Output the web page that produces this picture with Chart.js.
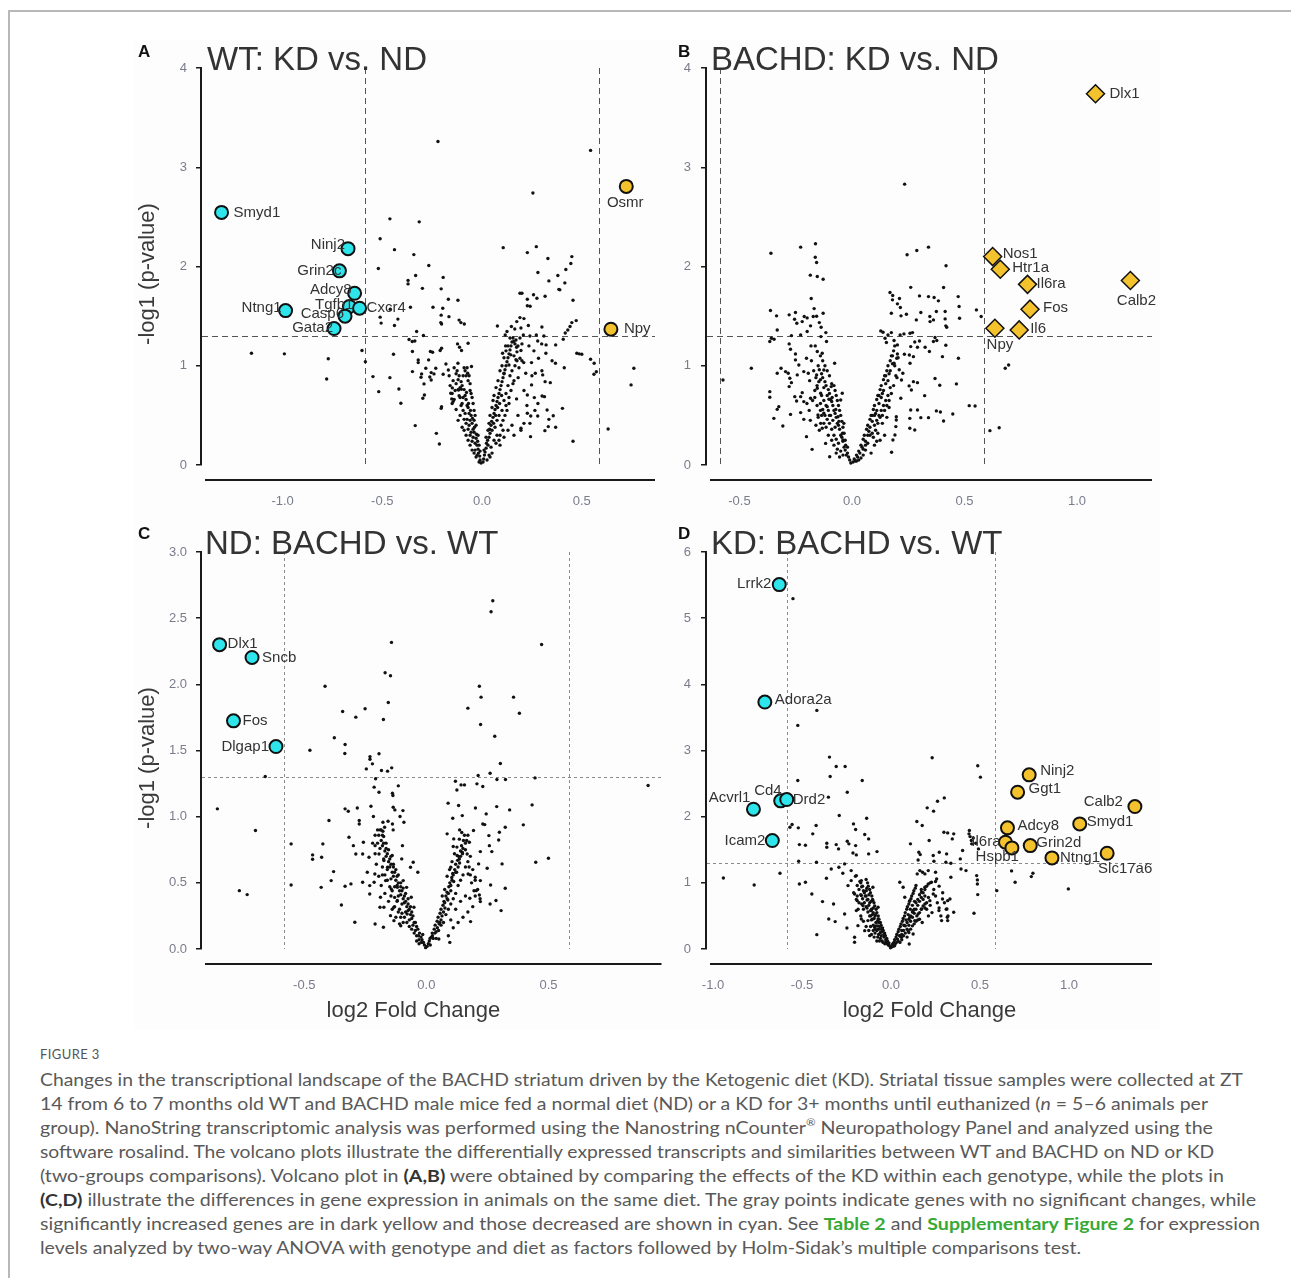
<!DOCTYPE html>
<html>
<head>
<meta charset="utf-8">
<title>Figure 3 volcano plots</title>
<script src="https://cdn.jsdelivr.net/npm/chart.js@4.4.1/dist/chart.umd.min.js"></script>
<style>
  body { margin: 0; width: 1291px; height: 1278px; position: relative; background: #fff; overflow: hidden; }
  .frame { position: absolute; left: 8px; top: 10px; width: 1300px; height: 1300px; border-top: 2px solid #b8b8b8; border-left: 2px solid #b8b8b8; }
  .figbg { position: absolute; left: 134px; top: 40px; width: 1026px; height: 990px; background: #fdfdfd; }
  canvas { position: absolute; }
  .ttl { position: absolute; font: 33px/33px "Liberation Sans", Arial, sans-serif; color: #333; white-space: nowrap; }
  .let { position: absolute; font: bold 17px/17px "Liberation Sans", Arial, sans-serif; color: #111; }
  .cap { position: absolute; left: 40px; height: 22px; font: 17px/22px Lato, "Open Sans", sans-serif; color: #595959; white-space: nowrap; transform-origin: 0 0; }
  .cap b { color: #333; }
  .cap .lnk { color: #38a936; font-weight: bold; }
  .cap sup { font-size: 10px; line-height: 0; vertical-align: 0; position: relative; top: -8px; }
  .figno { position: absolute; left: 40px; top: 1046px; font: 13px/16px Lato, sans-serif; color: #555; letter-spacing: 0.4px; }
</style>
</head>
<body>
<div class="frame"></div>
<div class="figbg"></div>

<canvas id="cA" width="540" height="490" style="left:130px;top:40px"></canvas>
<canvas id="cB" width="500" height="490" style="left:665px;top:40px"></canvas>
<canvas id="cC" width="540" height="510" style="left:130px;top:520px"></canvas>
<canvas id="cD" width="500" height="510" style="left:665px;top:520px"></canvas>

<div class="ttl" style="left:207px;top:42px">WT: KD vs. ND</div>
<div class="ttl" style="left:711px;top:42px">BACHD: KD vs. ND</div>
<div class="ttl" style="left:205px;top:526px">ND: BACHD vs. WT</div>
<div class="ttl" style="left:711px;top:526px">KD: BACHD vs. WT</div>
<div class="let" style="left:138px;top:43px">A</div>
<div class="let" style="left:678px;top:43px">B</div>
<div class="let" style="left:138px;top:525px">C</div>
<div class="let" style="left:678px;top:525px">D</div>

<div class="figno">FIGURE 3</div>
<div class="cap" style="top:1069px">Changes in the transcriptional landscape of the BACHD striatum driven by the Ketogenic diet (KD). Striatal tissue samples were collected at ZT</div>
<div class="cap" style="top:1093px">14 from 6 to 7 months old WT and BACHD male mice fed a normal diet (ND) or a KD for 3+ months until euthanized (<i>n</i> = 5–6 animals per</div>
<div class="cap" style="top:1117px">group). NanoString transcriptomic analysis was performed using the Nanostring nCounter<sup>®</sup> Neuropathology Panel and analyzed using the</div>
<div class="cap" style="top:1141px">software rosalind. The volcano plots illustrate the differentially expressed transcripts and similarities between WT and BACHD on ND or KD</div>
<div class="cap" style="top:1165px">(two-groups comparisons). Volcano plot in <b>(A,B)</b> were obtained by comparing the effects of the KD within each genotype, while the plots in</div>
<div class="cap" style="top:1189px"><b>(C,D)</b> illustrate the differences in gene expression in animals on the same diet. The gray points indicate genes with no significant changes, while</div>
<div class="cap" style="top:1213px">significantly increased genes are in dark yellow and those decreased are shown in cyan. See <span class="lnk">Table 2</span> and <span class="lnk">Supplementary Figure 2</span> for expression</div>
<div class="cap" style="top:1237px">levels analyzed by two-way ANOVA with genotype and diet as factors followed by Holm-Sidak’s multiple comparisons test.</div>

<script>
// ---- thresholds ----
const FC_CUT = 0.585;   // log2(1.5)
const P_CUT = 1.3;      // -log10(0.05)

// ---- tick labels ----
const xTicksA = [-1.0, -0.5, 0.0, 0.5];
const yTicksA = [0, 1, 2, 3, 4];
const xTicksB = [-0.5, 0.0, 0.5, 1.0];
const yTicksB = [0, 1, 2, 3, 4];
const xTicksC = [-0.5, 0.0, 0.5];
const yTicksC = [0.0, 0.5, 1.0, 1.5, 2.0, 2.5, 3.0];
const xTicksD = [-1.0, -0.5, 0.0, 0.5, 1.0];
const yTicksD = [0, 1, 2, 3, 4, 5, 6];

// ---- A: WT KD vs ND ----
const downA_genes = ['Smyd1', 'Ninj2', 'Grin2c', 'Adcy8', 'Tgfb1', 'Cxcr4', 'Casp6', 'Gata2', 'Ntng1'];
const downA_fc = [-1.306, -0.672, -0.715, -0.639, -0.665, -0.614, -0.687, -0.742, -0.985];
const downA_p = [2.545, 2.18, 1.956, 1.73, 1.597, 1.58, 1.50, 1.375, 1.556];
const upA_genes = ['Osmr', 'Npy'];
const upA_fc = [0.723, 0.646];
const upA_p = [2.807, 1.368];
const nsA = [
  [-0.221,3.26],[0.544,3.17],[0.255,2.74],[-0.462,2.48],[-0.315,2.45],[-0.511,2.28],[-0.439,2.17],[0.106,2.19],[0.272,2.2],[0.227,2.14],
  [-0.342,2.12],[0.45,2.1],[0.33,2.08],[0.445,2.03],[-0.267,2.01],[-0.52,1.98],[0.42,1.97],[0.28,1.94],[-0.195,1.89],[-0.333,1.91],
  [0.38,1.91],[0.335,1.855],[-0.371,1.86],[-0.371,1.825],[0.415,1.835],[-0.299,1.78],[-0.205,1.775],[0.385,1.77],[0.39,1.765],[0.19,1.73],
  [0.2,1.73],[0.316,1.7],[0.258,1.715],[0.275,1.68],[0.227,1.67],[-0.169,1.67],[-0.121,1.66],[0.456,1.66],[0.227,1.605],[0.241,1.6],
  [-0.246,1.59],[-0.197,1.58],[-0.359,1.59],[-0.511,1.49],[-0.46,1.57],[-0.205,1.51],[-0.166,1.495],[-0.422,1.47],[-0.506,1.43],[-0.207,1.435],
  [-0.203,1.42],[-0.106,1.435],[-0.115,1.46],[-0.089,1.42],[-0.439,1.405],[0.19,1.485],[0.21,1.475],[0.174,1.445],[0.472,1.455],[0.45,1.435],
  [0.441,1.395],[0.232,1.405],[0.147,1.395],[0.195,1.38],[0.3,1.39],[0.077,1.4],[0.164,1.37],[-0.328,1.345],[0.125,1.345],[0.43,1.36],
  [0.417,1.33],[0.272,1.31],[0.31,1.3],[-0.294,1.305],[0.116,1.31],[0.207,1.31],[0.24,1.3],
  [-0.366,1.264],[-0.35,1.245],[-0.337,1.25],[-0.07,1.227],[-0.123,1.22],[-0.113,1.187],[-0.103,1.153],[0.321,1.21],[0.369,1.21],[0.407,1.267],
  [0.299,1.22],[0.279,1.25],[0.159,1.244],[0.173,1.187],[0.195,1.153],[0.118,1.2],[0.103,1.126],[-0.203,1.176],[-0.21,1.153],[-0.259,1.143],
  [-0.248,1.136],[-0.349,1.143],[-0.444,1.116],[-0.602,1.153],[-0.585,1.04],[-0.771,1.07],[-0.991,1.12],[-1.156,1.126],[0.475,1.126],[0.5,1.116],
  [0.487,1.12],[0.544,1.066],[0.562,1.025],[0.573,0.94],[0.561,0.914],[0.761,0.975],[0.747,0.807],[0.632,0.363],[0.456,0.239],[0.412,0.98],
  [0.368,1.025],[0.351,1.05],[0.32,1.126],[0.283,1.076],[0.248,1.032],[0.209,1.032],[0.19,1.076],[0.17,1.06],[0.144,1.11],[0.135,1.008],
  [0.11,0.924],[0.219,0.924],[0.267,0.924],[0.304,0.908],[0.316,0.84],[0.342,0.83],[0.248,0.807],[0.181,0.88],[0.313,0.689],[0.301,0.696],
  [0.262,0.679],[0.227,0.706],[0.173,0.666],[0.403,0.571],[0.326,0.555],[0.227,0.521],[0.244,0.494],[0.279,0.494],[0.357,0.497],[0.335,0.46],
  [0.369,0.38],[0.332,0.387],[0.315,0.346],[0.243,0.286],[0.195,0.37],[0.21,0.42],
  [-0.121,1.025],[-0.181,1.018],[-0.169,0.958],[-0.195,0.914],[-0.241,0.918],[-0.255,0.931],[-0.232,0.975],[-0.282,0.975],[-0.32,1.059],[-0.32,1.032],
  [-0.268,1.059],[-0.349,0.941],[-0.303,0.918],[-0.306,0.884],[-0.291,0.817],[-0.255,0.857],[-0.262,0.887],[-0.297,0.672],[-0.289,0.706],[-0.462,0.88],
  [-0.547,0.891],[-0.518,0.739],[-0.417,0.766],[-0.407,0.622],[-0.335,0.397],[-0.779,0.867],[-0.203,0.588],[-0.205,0.571],[-0.229,0.319],[-0.214,0.212],
  [-0.149,0.777],[-0.157,0.723],[-0.152,0.666],[-0.145,0.639],[-0.118,0.756],[-0.115,0.699],[-0.104,0.763],[-0.053,0.992],[-0.072,0.924],
  [-0.005,0.02],[-0.01,0.05],[-0.012,0.09],[-0.018,0.12],[-0.02,0.16],[-0.025,0.2],[-0.022,0.24],[-0.03,0.27],[-0.035,0.22],[-0.028,0.31],
  [-0.04,0.33],[-0.038,0.38],[-0.045,0.36],[-0.05,0.42],[-0.048,0.47],[-0.055,0.5],[-0.06,0.45],[-0.058,0.55],[-0.065,0.52],[-0.07,0.58],
  [-0.068,0.62],[-0.075,0.6],[-0.08,0.66],[-0.085,0.7],[-0.078,0.73],[-0.09,0.76],[-0.095,0.68],[-0.1,0.8],[-0.105,0.84],[-0.11,0.78],
  [-0.115,0.9],[-0.12,0.86],[-0.125,0.95],[-0.13,0.92],[-0.14,0.98],[-0.045,0.28],[-0.055,0.33],[-0.065,0.4],[-0.075,0.46],[-0.085,0.52],
  [-0.095,0.55],[-0.105,0.6],[-0.11,0.5],[-0.12,0.45],[-0.1,0.38],[-0.09,0.35],[-0.08,0.3],[-0.07,0.25],[-0.06,0.2],[-0.05,0.15],
  [-0.04,0.12],[-0.03,0.08],[-0.015,0.03],[-0.135,0.75],[-0.145,0.85],[-0.15,0.62],[-0.13,0.56],[-0.095,0.9],[-0.085,0.95],[-0.06,0.75],[-0.07,0.85],
  [-0.02,0.3],[-0.03,0.4],[-0.035,0.5],[-0.04,0.55],[-0.045,0.62],[-0.05,0.68],[-0.055,0.72],[-0.06,0.82],[-0.065,0.9],[-0.075,0.98],
  [-0.08,0.9],[-0.09,0.98],[-0.1,0.62],[-0.11,0.68],[-0.12,0.76],[-0.13,0.82],[-0.14,0.66],[-0.15,0.72],[-0.16,0.8],[-0.165,0.9],
  [-0.07,0.36],[-0.08,0.42],[-0.09,0.46],[-0.06,0.3],[-0.05,0.24],[-0.035,0.15],[-0.025,0.1],[-0.01,0.14],[-0.015,0.2],[-0.04,0.45],
  [0.005,0.03],[0.008,0.06],[0.012,0.1],[0.015,0.13],[0.02,0.17],[0.022,0.22],[0.028,0.25],[0.03,0.2],[0.035,0.28],[0.04,0.32],
  [0.038,0.36],[0.045,0.4],[0.05,0.35],[0.048,0.44],[0.055,0.48],[0.06,0.52],[0.058,0.42],[0.065,0.56],[0.07,0.6],[0.068,0.5],
  [0.075,0.64],[0.08,0.68],[0.078,0.58],[0.085,0.72],[0.09,0.76],[0.088,0.62],[0.095,0.8],[0.1,0.84],[0.098,0.7],[0.105,0.88],
  [0.11,0.92],[0.115,0.96],[0.12,1.0],[0.125,1.04],[0.13,1.08],[0.135,1.12],[0.14,1.16],[0.145,1.2],[0.15,1.24],[0.155,1.28],
  [0.16,1.1],[0.165,1.22],[0.17,1.26],[0.175,1.14],[0.065,0.38],[0.075,0.45],[0.085,0.5],[0.1,0.55],[0.11,0.65],[0.12,0.72],
  [0.13,0.8],[0.14,0.9],[0.15,0.95],[0.16,0.85],[0.105,0.45],[0.12,0.6],[0.135,0.68],[0.09,0.3],[0.07,0.22],[0.05,0.12],
  [0.04,0.08],[0.025,0.05],[0.18,1.2],[0.19,1.28],[0.2,1.22],[0.185,0.98],[0.2,1.05],[0.21,0.75],[0.225,0.6],[0.18,0.5],
  [0.15,0.4],[0.13,0.35],[0.11,0.28],[0.09,0.2],[0.16,0.3],[0.195,0.35],[0.24,0.42],[0.265,0.55],[0.28,0.62],[0.25,0.9],[0.3,0.95],[0.26,1.15],[0.235,1.2],
  [0.01,0.15],[0.02,0.28],[0.03,0.35],[0.035,0.42],[0.04,0.5],[0.05,0.58],[0.055,0.65],[0.06,0.7],[0.07,0.78],[0.08,0.85],
  [0.09,0.95],[0.1,1.0],[0.11,1.08],[0.12,1.15],[0.13,1.2],[0.14,1.28],[0.095,0.4],[0.105,0.35],[0.115,0.5],[0.125,0.55],
  [0.135,0.62],[0.145,0.75],[0.155,0.82],[0.165,1.0],[0.175,1.05],[0.06,0.25],[0.075,0.3],[0.045,0.18],[0.035,0.1],[0.085,0.25]
];

// ---- B: BACHD KD vs ND ----
const downB_genes = [];
const downB_fc = [];
const downB_p = [];
const upB_genes = ['Dlx1', 'Nos1', 'Htr1a', 'Il6ra', 'Calb2', 'Fos', 'Npy', 'Il6'];
const upB_fc = [1.082, 0.625, 0.659, 0.78, 1.237, 0.791, 0.635, 0.743];
const upB_p = [3.74, 2.10, 1.973, 1.82, 1.859, 1.57, 1.378, 1.361];
const nsB = [
  [0.234,2.83],[-0.162,2.23],[-0.228,2.195],[-0.36,2.134],[-0.163,2.094],[-0.157,2.04],[0.245,2.118],[0.288,2.161],[0.34,2.195],[0.418,2.007],
  [0.261,1.79],[0.407,1.788],[-0.185,1.913],[-0.154,1.9],[-0.128,1.872],[0.169,1.738],[0.181,1.708],[0.211,1.677],[0.3,1.704],[0.34,1.697],
  [0.365,1.687],[0.384,1.654],[0.472,1.697],[-0.181,1.677],[-0.168,1.576],[-0.172,1.496],[-0.199,1.482],[-0.212,1.496],[-0.157,1.499],[-0.128,1.529],
  [-0.145,1.435],[-0.362,1.556],[-0.335,1.503],[-0.279,1.513],[-0.251,1.536],[-0.255,1.469],[-0.221,1.445],[-0.245,1.429],[-0.269,1.304],[-0.228,1.311],
  [-0.199,1.345],[-0.184,1.402],[-0.137,1.388],[-0.116,1.334],[-0.332,1.361],[-0.358,1.277],[-0.365,1.244],[-0.346,1.267],[0.18,1.664],[0.215,1.587],
  [0.202,1.624],[0.175,1.529],[0.218,1.503],[0.242,1.519],[0.306,1.536],[0.286,1.462],[0.346,1.496],[0.375,1.546],[0.414,1.546],[0.414,1.472],
  [0.362,1.462],[0.347,1.445],[0.417,1.402],[0.421,1.388],[0.476,1.597],[0.478,1.479],[0.553,1.563],[0.574,1.496],[0.128,1.351],[0.138,1.338],
  [0.16,1.311],[0.175,1.334],[0.214,1.311],[0.231,1.321],[0.258,1.328],[0.269,1.334],[0.369,1.284],[0.3,1.25],[0.279,1.24],[0.261,1.193],
  [0.187,1.254],[0.153,1.234],[0.147,1.277],[0.202,1.21],[0.291,1.187],[0.325,1.187],[0.344,1.143],[0.377,1.254],[0.417,1.207],[0.362,1.244],
  [0.233,1.116],[0.255,1.109],[0.273,1.092],[0.202,1.119],[0.187,1.025],[0.199,1.076],[0.258,1.025],[0.402,1.092],[0.473,1.076],[0.681,0.975],
  [0.696,1.008],[0.547,0.595],[0.521,0.598],[0.613,0.346],[0.654,0.376],[0.464,0.817],[0.39,0.803],[0.369,0.871],[0.375,0.545],[0.393,0.534],
  [0.407,0.444],[0.448,0.514],[0.34,0.477],[0.306,0.477],[0.323,0.699],[0.291,0.83],[0.273,0.84],[0.254,0.797],[0.264,0.756],[0.291,0.555],
  [0.261,0.555],[0.257,0.47],[0.279,0.353],[0.257,0.37],[0.22,0.857],[0.226,0.924],[0.217,0.672],[0.197,0.487],[0.195,0.387],[0.182,0.252],
  [0.191,0.303],[0.176,0.128],[0.197,0.454],
  [-0.447,0.975],[-0.573,0.857],[-0.365,0.739],[-0.365,0.682],[-0.325,0.588],[-0.332,0.561],[-0.347,0.47],[-0.307,0.393],[-0.273,0.51],[-0.228,0.528],
  [-0.214,0.46],[-0.202,0.286],[-0.177,0.158],[-0.283,0.924],[-0.276,0.874],[-0.269,0.83],[-0.243,0.908],[-0.279,0.79],[-0.295,0.941],[-0.332,0.924],
  [-0.251,1.059],[-0.236,1.008],[-0.202,1.076],[-0.214,0.941],[-0.194,0.924],[-0.188,0.85],[-0.228,0.689],[-0.254,0.689],[-0.246,0.645],[-0.214,0.639],
  [-0.184,0.672],[-0.221,0.729],[-0.157,0.908],[-0.147,0.84],[-0.139,0.723],[-0.154,0.773],[-0.077,1.025],[-0.132,1.126],[-0.113,1.244],[-0.138,1.294],
  [-0.163,1.2],[-0.154,1.143],[-0.182,1.2],[-0.273,1.166],[-0.279,1.22],[-0.251,1.119],[-0.315,0.975],[-0.125,0.958],[-0.092,0.79],[-0.043,0.723],
  [-0.05,0.655],[-0.102,0.662],[-0.11,0.588],[-0.125,0.521],[-0.151,0.504],[-0.139,0.42],[-0.132,0.37],[-0.117,0.218],[-0.099,0.084],[-0.04,0.252],
  [-0.062,0.487],[-0.036,0.42],
  [-0.005,0.02],[-0.01,0.05],[-0.015,0.08],[-0.02,0.12],[-0.025,0.1],[-0.03,0.15],[-0.028,0.2],[-0.035,0.18],[-0.04,0.24],[-0.045,0.28],
  [-0.042,0.32],[-0.05,0.3],[-0.055,0.36],[-0.06,0.4],[-0.058,0.44],[-0.065,0.42],[-0.07,0.48],[-0.075,0.52],[-0.072,0.56],[-0.08,0.55],
  [-0.085,0.6],[-0.09,0.64],[-0.088,0.68],[-0.095,0.66],[-0.1,0.72],[-0.105,0.76],[-0.11,0.7],[-0.115,0.8],[-0.12,0.84],[-0.125,0.78],
  [-0.13,0.88],[-0.135,0.92],[-0.14,0.86],[-0.145,0.96],[-0.15,1.0],[-0.06,0.22],[-0.07,0.26],[-0.08,0.3],[-0.09,0.36],[-0.1,0.42],
  [-0.11,0.46],[-0.12,0.5],[-0.13,0.56],[-0.14,0.62],[-0.05,0.14],[-0.04,0.1],[-0.065,0.16],[-0.075,0.38],[-0.085,0.45],[-0.095,0.5],
  [-0.105,0.55],[-0.115,0.6],[-0.125,0.65],[-0.135,0.7],[-0.155,0.8],[-0.16,0.88],[-0.165,0.75],[-0.17,0.95],[-0.18,1.05],[-0.175,0.65],
  [-0.19,0.55],[-0.2,0.62],[-0.185,0.45],[-0.16,0.4],[-0.145,0.35],[-0.15,0.48],
  [-0.02,0.18],[-0.03,0.25],[-0.035,0.32],[-0.04,0.38],[-0.045,0.44],[-0.05,0.5],[-0.055,0.55],[-0.06,0.6],[-0.065,0.65],[-0.07,0.7],
  [-0.075,0.75],[-0.08,0.8],[-0.09,0.82],[-0.1,0.9],[-0.11,0.95],[-0.12,1.0],[-0.13,1.05],[-0.14,1.1],[-0.105,0.3],[-0.115,0.38],
  [-0.125,0.42],[-0.135,0.5],[-0.14,0.55],[-0.155,0.6],[-0.165,0.68],[-0.08,0.2],[-0.07,0.12],[-0.055,0.08],[-0.09,0.25],[-0.1,0.5],
  [0.005,0.03],[0.01,0.06],[0.015,0.04],[0.02,0.1],[0.025,0.08],[0.03,0.14],[0.035,0.12],[0.04,0.2],[0.045,0.18],[0.05,0.26],
  [0.055,0.3],[0.06,0.24],[0.065,0.36],[0.07,0.4],[0.075,0.34],[0.08,0.46],[0.085,0.5],[0.09,0.44],[0.095,0.56],[0.1,0.6],
  [0.105,0.52],[0.11,0.66],[0.115,0.7],[0.12,0.62],[0.125,0.76],[0.13,0.8],[0.135,0.72],[0.14,0.86],[0.145,0.9],[0.15,0.82],
  [0.155,0.95],[0.16,1.0],[0.165,0.92],[0.17,1.05],[0.175,1.1],[0.18,1.02],[0.185,1.15],[0.19,1.2],[0.07,0.22],[0.08,0.3],
  [0.09,0.32],[0.1,0.4],[0.11,0.45],[0.12,0.5],[0.13,0.55],[0.14,0.6],[0.15,0.65],[0.16,0.7],[0.06,0.15],[0.05,0.1],
  [0.115,0.32],[0.135,0.42],[0.155,0.48],[0.165,0.58],[0.17,0.78],[0.2,0.88],[0.205,1.08],[0.21,0.96],[0.125,0.25],[0.145,0.3],[0.1,0.2],[0.085,0.12],
  [0.02,0.04],[0.03,0.05],[0.04,0.07],[0.05,0.16],[0.06,0.2],[0.07,0.3],[0.08,0.38],[0.09,0.5],[0.1,0.5],[0.11,0.55],
  [0.12,0.7],[0.13,0.68],[0.14,0.75],[0.15,0.9],[0.16,0.85],[0.17,0.95],[0.18,1.1],[0.19,1.0],[0.095,0.28],[0.105,0.35],
  [0.115,0.42],[0.125,0.48],[0.135,0.5],[0.145,0.55],[0.155,0.6],[0.165,0.65],[0.175,0.72],[0.185,0.8],[0.195,0.9],[0.11,0.24]
];

// ---- C: ND BACHD vs WT ----
const downC_genes = ['Dlx1', 'Sncb', 'Fos', 'Dlgap1'];
const downC_fc = [-0.847, -0.714, -0.79, -0.616];
const downC_p = [2.30, 2.203, 1.724, 1.53];
const upC_genes = [];
const upC_fc = [];
const upC_p = [];
const nsC = [
  [0.272,2.632],[0.265,2.549],[-0.143,2.317],[0.472,2.301],[-0.169,2.087],[-0.147,2.065],[-0.415,1.986],[0.217,1.986],[0.224,1.903],[0.357,1.903],
  [-0.156,1.863],[0.17,1.82],[-0.251,1.815],[-0.343,1.795],[0.381,1.782],[-0.289,1.752],[-0.176,1.734],[0.222,1.696],[-0.377,1.596],[0.28,1.608],
  [-0.333,1.545],[-0.334,1.477],[-0.477,1.502],[-0.231,1.454],[-0.231,1.434],[-0.194,1.475],[-0.221,1.399],[-0.246,1.361],[-0.184,1.349],[-0.159,1.344],
  [-0.142,1.369],[0.303,1.402],[0.261,1.328],[0.212,1.311],[-0.66,1.303],[-0.208,1.286],[0.445,1.293],[0.289,1.281],[0.324,1.281],[0.119,1.268],
  [0.142,1.24],[0.156,1.24],[0.207,1.248],[0.231,1.228],[0.125,1.202],[0.908,1.235],[-0.115,1.233],[-0.214,1.223],[-0.194,1.185],[-0.139,1.177],
  [-0.137,1.16],[-0.856,1.059],[0.433,1.089],[0.089,1.102],[0.132,1.084],[0.288,1.076],[0.341,1.051],[-0.333,1.059],[-0.32,1.041],[-0.283,1.066],
  [-0.227,1.079],[-0.136,1.071],[-0.129,1.051],[-0.096,1.046],[-0.399,0.971],[-0.275,0.971],[-0.275,0.945],[-0.217,1.001],[-0.178,0.958],[-0.157,0.965],
  [-0.139,0.945],[-0.108,1.001],[-0.092,0.958],[-0.171,0.92],[-0.178,0.89],[-0.136,0.9],[-0.7,0.895],[0.108,0.988],[0.147,1.008],[0.201,1.066],
  [0.245,1.021],[0.231,0.945],[0.239,0.94],[0.193,0.895],[0.136,0.9],[0.397,0.938],[0.323,0.92],[0.299,0.882],[0.256,0.857],[0.296,0.824],
  [0.258,0.781],[0.268,0.736],[0.221,0.736],[0.112,0.832],[0.11,0.774],[0.147,0.731],[0.176,0.807],[0.167,0.718],[0.126,0.706],[0.085,0.87],
  [0.1,0.618],[0.214,0.643],[0.249,0.61],[0.31,0.643],[0.5,0.686],[0.448,0.655],[0.323,0.459],[0.306,0.29],[0.285,0.366],[0.263,0.484],
  [0.261,0.34],[0.217,0.408],[0.204,0.441],[0.178,0.383],[0.181,0.207],[0.221,0.358],[0.2,0.542],[0.171,0.567],[0.221,0.517],[-0.554,0.794],
  [-0.554,0.484],[-0.466,0.711],[-0.466,0.678],[-0.429,0.693],[-0.424,0.794],[-0.38,0.585],[-0.39,0.517],[-0.431,0.466],[-0.348,0.333],[-0.333,0.474],
  [-0.309,0.492],[-0.293,0.202],[-0.766,0.441],[-0.734,0.411],[-0.317,0.844],[-0.299,0.781],[-0.289,0.718],[-0.261,0.718],[-0.258,0.807],[-0.235,0.693],
  [-0.21,0.781],[-0.194,0.718],[-0.174,0.668],[-0.159,0.618],[-0.14,0.706],[-0.098,0.781],[-0.101,0.681],[-0.054,0.655],[-0.065,0.618],[-0.035,0.58],
  [-0.261,0.504],[-0.242,0.58],[-0.232,0.479],[-0.211,0.567],[-0.214,0.504],[-0.18,0.56],[-0.167,0.517],[-0.144,0.454],[-0.119,0.466],[-0.095,0.517],
  [-0.081,0.466],[-0.19,0.315],[-0.174,0.315],[-0.133,0.315],[-0.21,0.189],[-0.176,0.164],[-0.133,0.214],[-0.105,0.176],[-0.147,0.252],[-0.079,0.265],
  [-0.062,0.391],[-0.051,0.315],[-0.119,0.366],[-0.188,0.391],[-0.232,0.416],[0.096,0.05],[0.051,0.076],
  [-0.003,0.01],[-0.008,0.03],[-0.012,0.05],[-0.018,0.07],[-0.022,0.09],[-0.015,0.11],[-0.028,0.12],[-0.032,0.1],[-0.035,0.15],[-0.04,0.17],
  [-0.045,0.14],[-0.05,0.2],[-0.055,0.18],[-0.06,0.23],[-0.065,0.26],[-0.07,0.22],[-0.075,0.29],[-0.08,0.32],[-0.085,0.28],[-0.09,0.35],
  [-0.095,0.38],[-0.1,0.34],[-0.105,0.41],[-0.11,0.44],[-0.115,0.4],[-0.12,0.48],[-0.125,0.52],[-0.13,0.47],[-0.135,0.55],[-0.14,0.58],
  [-0.145,0.53],[-0.15,0.62],[-0.155,0.66],[-0.16,0.6],[-0.165,0.7],[-0.17,0.74],[-0.175,0.68],[-0.18,0.78],[-0.185,0.82],[-0.19,0.76],
  [-0.195,0.86],[-0.2,0.9],[-0.05,0.12],[-0.06,0.15],[-0.07,0.17],[-0.08,0.2],[-0.09,0.24],[-0.1,0.27],[-0.11,0.3],[-0.12,0.36],
  [-0.13,0.39],[-0.14,0.44],[-0.15,0.47],[-0.16,0.52],[-0.17,0.56],[-0.18,0.62],[-0.04,0.06],[-0.03,0.04],[-0.065,0.32],[-0.075,0.38],
  [-0.085,0.42],[-0.095,0.46],[-0.105,0.5],[-0.115,0.56],[-0.125,0.6],[-0.135,0.64],[-0.145,0.7],[-0.155,0.75],[-0.165,0.8],[-0.175,0.85],
  [-0.185,0.9],[-0.21,0.72],[-0.22,0.8],[-0.205,0.64],[-0.195,0.55],[-0.185,0.48],[-0.17,0.42],[-0.155,0.36],[-0.14,0.3],[-0.125,0.24],[-0.11,0.19],
  [-0.02,0.05],[-0.03,0.07],[-0.04,0.1],[-0.045,0.2],[-0.055,0.25],[-0.06,0.28],[-0.07,0.3],[-0.075,0.34],[-0.085,0.36],[-0.09,0.4],
  [-0.1,0.44],[-0.105,0.47],[-0.115,0.5],[-0.12,0.55],[-0.13,0.58],[-0.135,0.62],[-0.145,0.64],[-0.15,0.68],[-0.16,0.72],[-0.165,0.76],
  [-0.175,0.8],[-0.18,0.86],[-0.19,0.9],[-0.2,0.8],[-0.21,0.86],[-0.095,0.2],[-0.105,0.24],[-0.115,0.28],[-0.13,0.32],[-0.145,0.4],
  [0.003,0.02],[0.008,0.04],[0.012,0.06],[0.016,0.03],[0.02,0.09],[0.024,0.12],[0.028,0.08],[0.032,0.15],[0.036,0.18],[0.04,0.13],
  [0.044,0.21],[0.048,0.24],[0.052,0.19],[0.056,0.27],[0.06,0.3],[0.064,0.25],[0.068,0.33],[0.072,0.36],[0.076,0.31],[0.08,0.4],
  [0.084,0.43],[0.088,0.37],[0.092,0.47],[0.096,0.5],[0.1,0.44],[0.104,0.54],[0.108,0.57],[0.112,0.51],[0.116,0.6],[0.12,0.64],
  [0.124,0.58],[0.128,0.67],[0.132,0.7],[0.136,0.65],[0.14,0.74],[0.144,0.78],[0.148,0.72],[0.152,0.82],[0.156,0.86],[0.16,0.8],
  [0.04,0.08],[0.05,0.14],[0.06,0.18],[0.07,0.2],[0.08,0.26],[0.09,0.3],[0.1,0.34],[0.11,0.38],[0.12,0.42],[0.13,0.48],
  [0.14,0.52],[0.15,0.56],[0.16,0.62],[0.17,0.66],[0.18,0.7],[0.065,0.4],[0.075,0.45],[0.085,0.55],[0.095,0.6],[0.105,0.66],
  [0.115,0.72],[0.125,0.77],[0.135,0.83],[0.145,0.88],[0.19,0.6],[0.2,0.52],[0.21,0.45],[0.22,0.38],[0.19,0.32],[0.17,0.28],
  [0.15,0.24],[0.13,0.2],[0.11,0.16],[0.09,0.1],
  [0.015,0.08],[0.025,0.1],[0.035,0.12],[0.045,0.16],[0.055,0.2],[0.06,0.22],[0.07,0.28],[0.075,0.35],[0.085,0.38],[0.09,0.42],
  [0.1,0.48],[0.105,0.52],[0.11,0.56],[0.12,0.58],[0.13,0.62],[0.135,0.68],[0.14,0.7],[0.15,0.76],[0.16,0.75],[0.165,0.82],
  [0.17,0.86],[0.175,0.62],[0.18,0.56],[0.185,0.5],[0.195,0.44],[0.2,0.4],[0.16,0.4],[0.14,0.36],[0.12,0.3],[0.1,0.22]
];

// ---- D: KD BACHD vs WT ----
const downD_genes = ['Lrrk2', 'Adora2a', 'Cd4', 'Drd2', 'Acvrl1', 'Icam2'];
const downD_fc = [-0.628, -0.709, -0.62, -0.586, -0.773, -0.667];
const downD_p = [5.507, 3.732, 2.239, 2.259, 2.113, 1.639];
const upD_genes = ['Ninj2', 'Ggt1', 'Calb2', 'Smyd1', 'Adcy8', 'Il6ra', 'Hspb1', 'Grin2d', 'Ntng1', 'Slc17a6'];
const upD_fc = [0.776, 0.711, 1.37, 1.06, 0.654, 0.643, 0.679, 0.782, 0.904, 1.214];
const upD_p = [2.632, 2.37, 2.153, 1.891, 1.831, 1.614, 1.528, 1.563, 1.377, 1.447];
const nsD = [
  [-0.551,5.295],[-0.417,3.606],[-0.524,3.379],[-0.346,2.9],[-0.308,2.758],[-0.258,2.758],[-0.342,2.607],[-0.162,2.547],[-0.524,2.547],[-0.246,2.37],
  [-0.352,2.295],[0.231,2.89],[0.487,2.769],[0.502,2.597],[0.299,2.284],[0.261,2.234],[0.203,2.133],[0.239,2.083],[-0.291,2.017],[-0.137,1.977],
  [0.145,1.926],[0.175,1.866],[-0.211,1.891],[-0.199,1.805],[-0.556,1.881],[-0.568,1.841],[-0.521,1.831],[-0.421,1.866],[-0.44,1.74],[-0.148,1.73],
  [-0.126,1.664],[0.297,1.765],[0.318,1.755],[0.352,1.74],[0.344,1.664],[0.44,1.79],[0.438,1.74],[0.444,1.699],[0.462,1.679],[0.451,1.639],
  [0.476,1.599],[0.491,1.513],[0.453,1.589],[0.214,1.639],[0.109,1.589],[-0.515,1.578],[-0.481,1.568],[-0.246,1.629],[-0.237,1.589],[-0.199,1.563],
  [-0.361,1.599],[-0.361,1.538],[-0.308,1.578],[-0.295,1.513],[-0.214,1.452],[-0.195,1.422],[-0.126,1.437],[-0.079,1.472],[0.271,1.462],[0.312,1.437],
  [0.308,1.311],[0.237,1.412],[0.241,1.326],[0.156,1.462],[0.164,1.427],[0.152,1.346],[0.389,1.362],[0.402,1.488],[-0.419,1.311],[-0.519,1.326],
  [-0.942,1.074],[-0.769,0.968],[-0.624,1.145],[-0.363,1.069],[-0.515,0.983],[-0.481,1.009],[-0.445,0.832],[-0.385,0.716],[-0.35,0.454],[-0.314,0.414],
  [-0.323,0.681],[-0.261,0.53],[-0.248,0.318],[-0.417,0.217],[-0.205,0.177],[-0.205,0.101],[-0.271,1.145],[-0.293,1.235],[-0.261,1.286],[-0.336,1.21],
  [-0.224,1.185],[-0.195,1.109],[-0.167,1.034],[-0.224,1.034],[-0.242,0.958],[-0.205,0.832],[-0.167,0.807],[-0.139,0.882],[-0.19,0.731],[-0.158,0.656],
  [-0.195,0.58],[-0.167,0.454],[-0.111,0.58],[-0.13,0.429],[-0.186,0.353],[-0.148,0.277],[-0.12,0.202],[-0.092,0.328],[-0.073,0.454],[-0.102,0.731],
  [-0.102,0.933],[-0.073,0.63],[0.481,1.109],[0.485,1.044],[0.485,0.983],[0.487,0.822],[0.466,0.54],[0.421,1.185],[0.393,1.21],[0.336,1.084],
  [0.336,1.296],[0.331,0.756],[0.318,0.731],[0.289,0.756],[0.314,0.605],[0.352,0.555],[0.316,0.479],[0.318,0.429],[0.284,0.429],[0.269,0.58],
  [0.594,0.882],[0.677,1.18],[0.697,1.009],[0.788,1.094],[0.797,1.145],[0.996,0.908],[0.227,1.009],[0.209,0.983],[0.19,0.933],[0.171,0.857],
  [0.162,1.185],[0.177,1.16],[0.147,1.135],[0.19,1.135],[0.209,1.185],[0.25,1.16],[0.256,1.059],[0.237,0.832],[0.218,0.731],[0.19,0.681],
  [0.171,0.605],[0.152,0.53],[0.133,0.429],[0.124,0.58],[0.105,0.479],[0.077,0.353],[0.096,0.277],[0.058,0.177],[0.124,0.227],[0.102,0.076],
  [0.077,0.782],[0.105,0.731],[0.049,1.009],[0.068,0.933],
  [-0.003,0.02],[-0.008,0.05],[-0.012,0.09],[-0.016,0.06],[-0.02,0.12],[-0.024,0.16],[-0.028,0.11],[-0.032,0.2],[-0.036,0.24],[-0.04,0.18],
  [-0.044,0.28],[-0.048,0.32],[-0.052,0.26],[-0.056,0.36],[-0.06,0.4],[-0.064,0.34],[-0.068,0.45],[-0.072,0.5],[-0.076,0.42],[-0.08,0.55],
  [-0.084,0.6],[-0.088,0.52],[-0.092,0.65],[-0.096,0.7],[-0.1,0.62],[-0.104,0.75],[-0.108,0.8],[-0.112,0.72],[-0.116,0.85],[-0.12,0.9],
  [-0.124,0.82],[-0.128,0.95],[-0.132,1.0],[-0.136,0.92],[-0.14,1.05],[-0.05,0.12],[-0.06,0.16],[-0.07,0.22],[-0.08,0.28],[-0.09,0.3],
  [-0.1,0.36],[-0.11,0.44],[-0.12,0.5],[-0.13,0.56],[-0.14,0.64],[-0.15,0.7],[-0.16,0.76],[-0.17,0.82],[-0.18,0.9],[-0.19,0.96],
  [-0.035,0.08],[-0.045,0.1],[-0.065,0.3],[-0.075,0.35],[-0.085,0.4],[-0.095,0.46],[-0.105,0.52],[-0.115,0.58],[-0.125,0.66],[-0.135,0.74],
  [-0.145,0.8],[-0.155,0.88],[-0.165,0.94],[-0.175,1.02],[-0.2,1.1],[-0.21,0.85],[-0.195,0.75],[-0.185,0.6],[-0.17,0.5],[-0.155,0.42],
  [-0.14,0.34],[-0.125,0.28],[-0.11,0.22],[-0.095,0.18],[-0.08,0.12],
  [-0.02,0.08],[-0.03,0.14],[-0.04,0.22],[-0.05,0.3],[-0.055,0.2],[-0.06,0.25],[-0.07,0.4],[-0.075,0.3],[-0.085,0.35],[-0.09,0.5],
  [-0.1,0.55],[-0.105,0.45],[-0.11,0.6],[-0.115,0.5],[-0.12,0.7],[-0.13,0.75],[-0.135,0.62],[-0.14,0.8],[-0.15,0.85],[-0.155,0.6],
  [-0.16,0.95],[-0.165,0.68],[-0.17,1.0],[-0.18,0.7],[-0.19,0.8],[-0.065,0.12],[-0.075,0.18],[-0.09,0.24],[-0.1,0.28],[-0.115,0.34],
  [0.003,0.03],[0.008,0.06],[0.012,0.04],[0.016,0.1],[0.02,0.14],[0.024,0.08],[0.028,0.18],[0.032,0.22],[0.036,0.15],[0.04,0.26],
  [0.044,0.3],[0.048,0.2],[0.052,0.34],[0.056,0.38],[0.06,0.28],[0.064,0.42],[0.068,0.46],[0.072,0.36],[0.076,0.5],[0.08,0.55],
  [0.084,0.44],[0.088,0.6],[0.092,0.64],[0.096,0.52],[0.1,0.68],[0.104,0.72],[0.108,0.6],[0.112,0.76],[0.116,0.8],[0.12,0.66],
  [0.124,0.84],[0.128,0.88],[0.132,0.72],[0.136,0.92],[0.14,0.96],[0.05,0.1],[0.06,0.14],[0.07,0.2],[0.08,0.24],[0.09,0.3],
  [0.1,0.36],[0.11,0.42],[0.12,0.48],[0.13,0.54],[0.14,0.6],[0.15,0.66],[0.16,0.72],[0.17,0.78],[0.18,0.85],[0.19,0.9],
  [0.145,0.5],[0.16,0.45],[0.175,0.4],[0.19,0.62],[0.2,0.7],[0.21,0.78],[0.22,0.66],[0.23,0.55],[0.24,0.9],[0.25,0.8],
  [0.26,0.7],[0.27,0.62],[0.28,0.5],[0.21,0.5],[0.2,0.95],[0.22,1.0],[0.25,1.02],[0.27,0.95],[0.29,0.85],[0.3,0.7],[0.31,0.6],[0.32,0.5],
  [0.01,0.08],[0.02,0.05],[0.03,0.1],[0.04,0.12],[0.05,0.2],[0.06,0.22],[0.07,0.28],[0.08,0.35],[0.09,0.4],[0.1,0.45],
  [0.11,0.5],[0.12,0.56],[0.13,0.6],[0.14,0.7],[0.15,0.75],[0.16,0.82],[0.17,0.9],[0.18,0.75],[0.19,0.8],[0.2,0.6],
  [0.11,0.3],[0.12,0.35],[0.13,0.38],[0.14,0.42],[0.15,0.44],[0.16,0.55],[0.17,0.6],[0.18,0.65],[0.09,0.18],[0.1,0.25]
];

// ---- label placement (px offset from point, text alignment) ----
const labelPlaceA = {
  Smyd1: [12, 0, 'left'], Ninj2: [-3, -4, 'right'], Grin2c: [2, 0, 'right'], Adcy8: [-3, -3, 'right'],
  Tgfb1: [4, -2, 'right'], Cxcr4: [7, 0, 'left'], Casp6: [-1, -2, 'right'], Gata2: [-1, -1, 'right'],
  Ntng1: [-4, -3, 'right'], Osmr: [-1, 16, 'center'], Npy: [13, 0, 'left']
};
const labelPlaceB = {
  Dlx1: [14, 0, 'left'], Nos1: [10, -3, 'left'], Htr1a: [12, -1, 'left'], Il6ra: [9, -1, 'left'],
  Calb2: [6, 20, 'center'], Fos: [13, -1, 'left'], Npy: [5, 17, 'center'], Il6: [11, -1, 'left']
};
const labelPlaceC = {
  Dlx1: [8, -1, 'left'], Sncb: [10, 0, 'left'], Fos: [9, 0, 'left'], Dlgap1: [-7, 0, 'right']
};
const labelPlaceD = {
  Lrrk2: [-8, -1, 'right'], Adora2a: [10, -2, 'left'], Cd4: [1, -10, 'right'], Drd2: [6, 0, 'left'],
  Acvrl1: [-3, -11, 'right'], Icam2: [-7, 0, 'right'], Ninj2: [11, -4, 'left'], Ggt1: [11, -3, 'left'],
  Calb2: [-12, -5, 'right'], Smyd1: [7, -2, 'left'], Adcy8: [10, -2, 'left'], Il6ra: [-5, 0, 'right'],
  Hspb1: [7, 9, 'right'], Grin2d: [6, -3, 'left'], Ntng1: [8, 0, 'left'], Slc17a6: [18, 16, 'center']
};

// ---- colours / fonts ----
const CYAN = '#2ee5ec';
const YELLOW = '#f3c22c';
const DOT = '#111111';
const TICK_COLOR = '#7a7c8c';
const FONT = '"Liberation Sans", Arial, sans-serif';

const volcanoPlugin = {
  id: 'volcano',
  beforeDatasetsDraw(chart, args, opts) {
    const { ctx, chartArea: a, scales: { x, y } } = chart;
    ctx.save();
    ctx.strokeStyle = opts.dashColor;
    ctx.lineWidth = 1;
    ctx.setLineDash(opts.dash);
    ctx.beginPath();
    const y0 = y.getPixelForValue(0);
    [-FC_CUT, FC_CUT].forEach(v => {
      const px = Math.round(x.getPixelForValue(v)) + 0.5;
      ctx.moveTo(px, a.top);
      ctx.lineTo(px, y0);
    });
    const py = Math.round(y.getPixelForValue(P_CUT)) + 0.5;
    ctx.moveTo(a.left, py);
    ctx.lineTo(a.right, py);
    ctx.stroke();
    ctx.restore();
  },
  // gene labels go under the highlighted markers, over the grey cloud
  afterDatasetDraw(chart, args, opts) {
    if (args.index !== 0) return;
    const ctx = chart.ctx;
    ctx.save();
    ctx.font = '15px ' + FONT;
    ctx.fillStyle = '#333';
    ctx.textBaseline = 'middle';
    chart.data.datasets.forEach((ds, i) => {
      if (!ds.genes) return;
      const meta = chart.getDatasetMeta(i);
      meta.data.forEach((pt, j) => {
        const name = ds.genes[j];
        const pl = opts.place[name] || [10, 0, 'left'];
        ctx.textAlign = pl[2];
        ctx.fillText(name, pt.x + pl[0], pt.y + pl[1]);
      });
    });
    ctx.restore();
  },
  afterDraw(chart) {
    const { ctx, chartArea: a, scales: { x, y } } = chart;
    ctx.save();
    ctx.strokeStyle = '#1a1a1a';
    ctx.lineWidth = 2;
    ctx.beginPath();
    ctx.moveTo(a.left - 1, y.getPixelForValue(0));
    ctx.lineTo(a.left - 1, y.getPixelForValue(y.max));
    ctx.moveTo(a.left + 3, a.bottom);
    ctx.lineTo(a.right, a.bottom);
    ctx.stroke();
    ctx.restore();
  }
};

function pts(fc, p) { return fc.map((v, i) => ({ x: v, y: p[i] })); }

function makePanel(id, cfg) {
  const decimalsY = cfg.yDec;
  new Chart(document.getElementById(id), {
    type: 'scatter',
    data: {
      datasets: [
        { data: cfg.ns.map(d => ({ x: d[0], y: d[1] })), pointRadius: 1.7, pointBackgroundColor: DOT, pointBorderWidth: 0 },
        { data: pts(cfg.downFc, cfg.downP), genes: cfg.downGenes, pointRadius: 6.5, pointBackgroundColor: CYAN,
          pointBorderColor: '#111', pointBorderWidth: 2 },
        { data: pts(cfg.upFc, cfg.upP), genes: cfg.upGenes, pointStyle: cfg.upStyle, pointRadius: cfg.upStyle === 'rectRot' ? 9 : 6.5,
          pointBackgroundColor: YELLOW, pointBorderColor: '#111', pointBorderWidth: cfg.upStyle === 'rectRot' ? 1.5 : 2 }
      ]
    },
    options: {
      responsive: false,
      animation: false,
      events: [],
      layout: { padding: { top: cfg.padTop, right: cfg.padRight, left: 0, bottom: 0 } },
      plugins: {
        legend: { display: false },
        tooltip: { enabled: false },
        volcano: { dash: cfg.dash, dashColor: cfg.dashColor, place: cfg.place }
      },
      scales: {
        x: {
          type: 'linear', min: cfg.xMin, max: cfg.xMax,
          afterBuildTicks: s => { s.ticks = cfg.xTicks.map(v => ({ value: v })); },
          afterFit: s => { s.height = cfg.xH; },
          grid: { display: false }, border: { display: false },
          ticks: { color: TICK_COLOR, font: { family: FONT, size: 13 }, padding: 6, autoSkip: false, maxRotation: 0,
                   callback: v => v.toFixed(1) },
          title: { display: cfg.xTitle, text: cfg.xTitleText, color: '#3a3a3a', font: { family: FONT, size: 22 },
                   padding: { bottom: 6, top: 0 } }
        },
        y: {
          type: 'linear', min: cfg.yMin, max: cfg.yMax,
          afterBuildTicks: s => { s.ticks = cfg.yTicks.map(v => ({ value: v })); },
          afterFit: s => { s.width = cfg.yW; },
          grid: { display: true, drawOnChartArea: false, drawTicks: true, tickLength: 6, color: '#1a1a1a', lineWidth: 1.5 },
          border: { display: false },
          ticks: { color: TICK_COLOR, font: { family: FONT, size: 13 }, padding: cfg.yPad, autoSkip: false,
                   callback: v => v.toFixed(decimalsY) },
          title: { display: cfg.yTitle, text: '-log1 (p-value)', color: '#3a3a3a', font: { family: FONT, size: 22 },
                   padding: { top: 5, bottom: 0 } }
        }
      }
    },
    plugins: [volcanoPlugin]
  });
}

makePanel('cA', {
  ns: nsA, downGenes: downA_genes, downFc: downA_fc, downP: downA_p,
  upGenes: upA_genes, upFc: upA_fc, upP: upA_p, upStyle: 'circle', place: labelPlaceA,
  xMin: -1.404, xMax: 0.867, yMin: -0.151, yMax: 4, xTicks: xTicksA, yTicks: yTicksA, yDec: 0,
  padTop: 28, padRight: 15, xH: 50, yW: 72, yPad: 9,
  xTitle: false, yTitle: true, dash: [6, 4], dashColor: '#555'
});
makePanel('cB', {
  ns: nsB, downGenes: downB_genes, downFc: downB_fc, downP: downB_p,
  upGenes: upB_genes, upFc: upB_fc, upP: upB_p, upStyle: 'rectRot', place: labelPlaceB,
  xMin: -0.644, xMax: 1.333, yMin: -0.151, yMax: 4, xTicks: xTicksB, yTicks: yTicksB, yDec: 0,
  padTop: 28, padRight: 13, xH: 50, yW: 42, yPad: 10,
  xTitle: false, yTitle: false, dash: [6, 4], dashColor: '#555'
});
makePanel('cC', {
  ns: nsC, downGenes: downC_genes, downFc: downC_fc, downP: downC_p,
  upGenes: upC_genes, upFc: upC_fc, upP: upC_p, upStyle: 'circle', place: labelPlaceC,
  xMin: -0.919, xMax: 0.963, yMin: -0.1134, yMax: 3, xTicks: xTicksC, yTicks: yTicksC, yDec: 1,
  padTop: 32, padRight: 5, xH: 66, yW: 72, yPad: 9,
  xTitle: true, xTitleText: 'log2 Fold Change      ', yTitle: true, dash: [3, 3], dashColor: '#8a8a8a'
});
makePanel('cD', {
  ns: nsD, downGenes: downD_genes, downFc: downD_fc, downP: downD_p,
  upGenes: upD_genes, upFc: upD_fc, upP: upD_p, upStyle: 'circle', place: labelPlaceD,
  xMin: -1.034, xMax: 1.466, yMin: -0.2267, yMax: 6, xTicks: xTicksD, yTicks: yTicksD, yDec: 0,
  padTop: 32, padRight: 13, xH: 66, yW: 42, yPad: 10,
  xTitle: true, xTitleText: 'log2 Fold Change', yTitle: false, dash: [3, 3], dashColor: '#8a8a8a'
});

// stretch each caption line to the measured width of the printed line
const capRight = [1243, 1208, 1213, 1214, 1224, 1256, 1260, 1081];
document.querySelectorAll('.cap').forEach((el, i) => {
  const w = el.getBoundingClientRect().width;
  el.style.transform = 'scaleX(' + ((capRight[i] - 40) / w).toFixed(4) + ')';
});
</script>
</body>
</html>
